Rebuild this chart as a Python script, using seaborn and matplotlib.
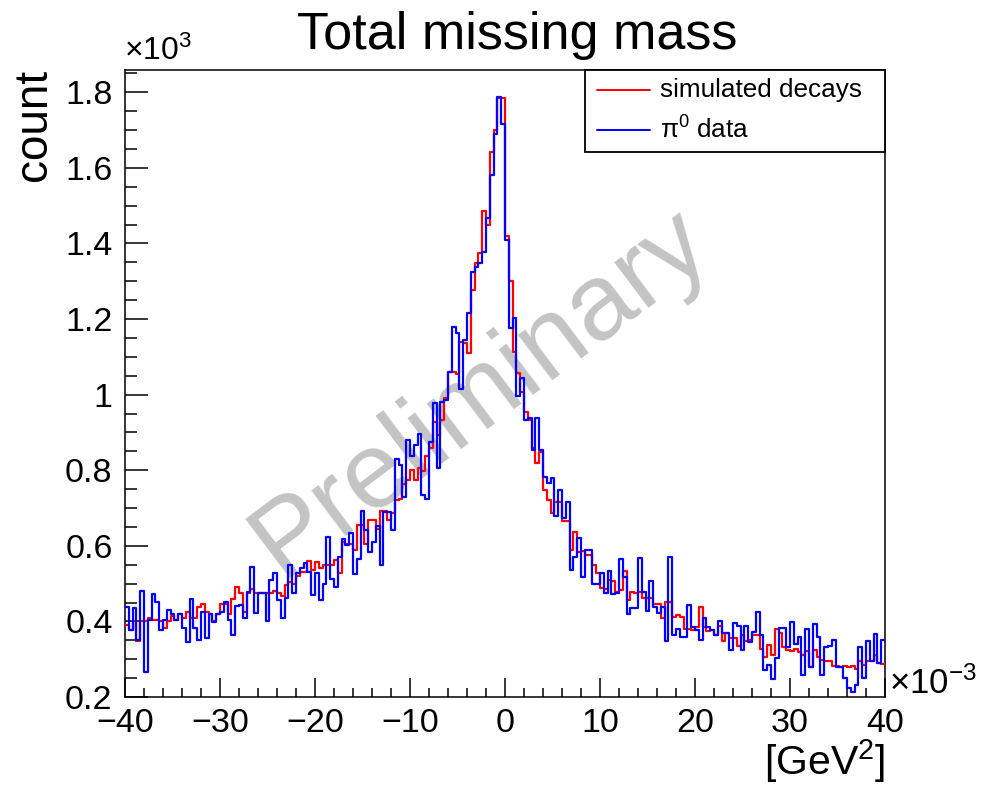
import numpy as np
import pandas as pd
import matplotlib
matplotlib.use("Agg")
import matplotlib.pyplot as plt
import seaborn as sns
from matplotlib.ticker import MultipleLocator, FuncFormatter
from matplotlib.patches import Rectangle
from matplotlib.lines import Line2D

# ---------------- data (counts in units of 10^3, x in 10^-3 GeV^2) ----------------
x_min, x_max, n_bins = -40.0, 40.0, 200

simulated_decays = [
    # -40 .. -30
    0.390, 0.378, 0.400, 0.347, 0.400, 0.400, 0.408, 0.404, 0.404, 0.400, 0.382, 0.400, 0.413,
    0.404, 0.420, 0.408, 0.426, 0.408, 0.408, 0.438, 0.447, 0.426, 0.420, 0.400, 0.420,
    # -30 .. -20
    0.447, 0.447, 0.420, 0.460, 0.490, 0.476, 0.426, 0.476, 0.485, 0.475, 0.476, 0.476, 0.476,
    0.476, 0.480, 0.475, 0.466, 0.496, 0.505, 0.500, 0.520, 0.530, 0.530, 0.560, 0.535,
    # -20 .. -10
    0.558, 0.540, 0.550, 0.550, 0.550, 0.562, 0.527, 0.611, 0.604, 0.604, 0.590, 0.655, 0.655,
    0.606, 0.668, 0.668, 0.645, 0.693, 0.693, 0.668, 0.687, 0.720, 0.724, 0.764, 0.773,
    # -10 .. 0
    0.800, 0.774, 0.805, 0.798, 0.837, 0.859, 0.927, 0.893, 0.933, 0.990, 1.060, 1.060, 1.055,
    1.140, 1.137, 1.110, 1.277, 1.348, 1.375, 1.486, 1.449, 1.642, 1.700, 1.785, 1.785,
    # 0 .. 10
    1.420, 1.300, 1.113, 1.057, 1.007, 0.954, 0.933, 0.860, 0.819, 0.848, 0.747, 0.720, 0.687,
    0.717, 0.715, 0.666, 0.666, 0.589, 0.636, 0.583, 0.585, 0.575, 0.575, 0.550, 0.528,
    # 10 .. 20
    0.488, 0.485, 0.510, 0.508, 0.479, 0.483, 0.534, 0.457, 0.479, 0.474, 0.479, 0.461, 0.461,
    0.461, 0.446, 0.446, 0.408, 0.452, 0.452, 0.412, 0.417, 0.412, 0.381, 0.381, 0.377,
    # 20 .. 30
    0.384, 0.439, 0.386, 0.375, 0.376, 0.364, 0.388, 0.347, 0.368, 0.355, 0.355, 0.335, 0.364,
    0.347, 0.351, 0.364, 0.364, 0.327, 0.305, 0.338, 0.311, 0.379, 0.368, 0.333, 0.324,
    # 30 .. 40
    0.322, 0.327, 0.320, 0.311, 0.322, 0.280, 0.324, 0.307, 0.298, 0.296, 0.294, 0.282, 0.282,
    0.279, 0.282, 0.280, 0.282, 0.273, 0.296, 0.285, 0.296, 0.296, 0.311, 0.291, 0.287,
]

pi0_data = [
    # -40 .. -30
    0.439, 0.378, 0.435, 0.351, 0.481, 0.267, 0.404, 0.472, 0.452, 0.378, 0.404, 0.430, 0.420,
    0.404, 0.420, 0.382, 0.346, 0.458, 0.382, 0.351, 0.426, 0.355, 0.420, 0.398, 0.420,
    # -30 .. -20
    0.426, 0.452, 0.404, 0.364, 0.440, 0.443, 0.409, 0.479, 0.544, 0.422, 0.476, 0.476, 0.400,
    0.510, 0.528, 0.457, 0.409, 0.462, 0.549, 0.475, 0.528, 0.541, 0.554, 0.530, 0.470,
    # -20 .. -10
    0.527, 0.457, 0.500, 0.622, 0.511, 0.492, 0.571, 0.617, 0.602, 0.635, 0.525, 0.564, 0.693,
    0.642, 0.583, 0.611, 0.653, 0.549, 0.690, 0.690, 0.642, 0.829, 0.814, 0.730, 0.880,
    # -10 .. 0
    0.837, 0.867, 0.896, 0.734, 0.724, 0.875, 0.978, 0.806, 0.980, 0.985, 1.060, 1.180, 1.163,
    1.015, 1.144, 1.216, 1.324, 1.338, 1.348, 1.377, 1.467, 1.580, 1.690, 1.787, 1.715,
    # 0 .. 10
    1.410, 1.176, 1.203, 0.996, 1.044, 0.933, 0.938, 0.853, 0.938, 0.853, 0.782, 0.766, 0.780,
    0.680, 0.747, 0.674, 0.717, 0.536, 0.570, 0.620, 0.517, 0.589, 0.589, 0.500, 0.500,
    # 10 .. 20
    0.529, 0.474, 0.534, 0.472, 0.474, 0.564, 0.518, 0.420, 0.435, 0.435, 0.568, 0.479, 0.428,
    0.508, 0.439, 0.423, 0.437, 0.349, 0.570, 0.364, 0.379, 0.358, 0.358, 0.443, 0.386,
    # 20 .. 30
    0.377, 0.351, 0.410, 0.386, 0.376, 0.364, 0.402, 0.368, 0.368, 0.324, 0.397, 0.388, 0.324,
    0.388, 0.346, 0.373, 0.426, 0.364, 0.272, 0.285, 0.247, 0.302, 0.382, 0.382, 0.331,
    # 30 .. 40
    0.398, 0.340, 0.360, 0.258, 0.380, 0.280, 0.392, 0.360, 0.258, 0.331, 0.335, 0.351, 0.280,
    0.280, 0.249, 0.223, 0.214, 0.232, 0.333, 0.249, 0.349, 0.296, 0.366, 0.291, 0.351,
]

series_labels = ["simulated decays", "\u03c0$^{0}$ data"]
series_colors = ["#ff0000", "#0000ff"]

title_text = "Total missing mass"
ylabel_text = "count"
xlabel_text = "[GeV$^{2}$]"
y_exp_text = "\u00d710$^{3}$"
x_exp_text = "\u00d710$^{-3}$"
watermark_text = "Preliminary"

# ---------------- styling ----------------
sns.set_style("white")
plt.rcParams["font.family"] = ["Liberation Sans", "DejaVu Sans"]
plt.rcParams["mathtext.fontset"] = "custom"
plt.rcParams["mathtext.rm"] = "Liberation Sans"
plt.rcParams["mathtext.it"] = "Liberation Sans:italic"
plt.rcParams["mathtext.bf"] = "Liberation Sans:bold"
plt.rcParams["text.color"] = "black"
plt.rcParams["axes.labelcolor"] = "black"
plt.rcParams["xtick.color"] = "black"
plt.rcParams["ytick.color"] = "black"

W, H = 983, 786
fig = plt.figure(figsize=(W / 100, H / 100), dpi=100)
fig.patch.set_facecolor("white")


def fx(px):
    return px / W


def fy(py):
    return 1 - py / H


ax_l, ax_r, ax_t, ax_b = 125, 885, 70, 697
ax = fig.add_axes([fx(ax_l), fy(ax_b), (ax_r - ax_l) / W, (ax_b - ax_t) / H])
ax.set_facecolor("white")

edges = list(np.linspace(x_min, x_max, n_bins + 1))
centers = 0.5 * (np.array(edges[:-1]) + np.array(edges[1:]))

df = pd.concat([
    pd.DataFrame({"x": centers, "count": simulated_decays, "series": "sim"}),
    pd.DataFrame({"x": centers, "count": pi0_data, "series": "data"}),
], ignore_index=True)

for key, col in zip(["sim", "data"], series_colors):
    sns.histplot(data=df[df["series"] == key], x="x", weights="count", bins=edges,
                 element="step", fill=False, color=col, linewidth=1.6, ax=ax, zorder=3)

ax.set_xlim(x_min, x_max)
ax.set_ylim(0.2, 0.2 + (ax_b - ax_t) / 378.0)
ax.set_xlabel("")
ax.set_ylabel("")

for s in ax.spines.values():
    s.set_visible(True)
    s.set_color("black")
    s.set_linewidth(1.1)

ax.xaxis.set_major_locator(MultipleLocator(10))
ax.xaxis.set_minor_locator(MultipleLocator(2))
ax.yaxis.set_major_locator(MultipleLocator(0.2))
ax.yaxis.set_minor_locator(MultipleLocator(0.05))
ax.xaxis.set_major_formatter(FuncFormatter(lambda v, p: f"{int(round(v))}".replace("-", "\u2212")))
ax.yaxis.set_major_formatter(FuncFormatter(lambda v, p: f"{round(v, 1):g}"))

ax.tick_params(axis="x", which="major", direction="in", length=13.5, width=1.1,
               labelsize=24.5, pad=8, bottom=True, top=False, colors="black")
ax.tick_params(axis="x", which="minor", direction="in", length=6.8, width=1.1,
               bottom=True, top=False)
ax.tick_params(axis="y", which="major", direction="in", length=16.5, width=1.1,
               labelsize=24.5, pad=9, left=True, right=False, colors="black")
ax.tick_params(axis="y", which="minor", direction="in", length=8.5, width=1.1,
               left=True, right=False)

# watermark
ax.text(fx(480), fy(393), watermark_text, transform=fig.transFigure, rotation=37,
        fontsize=78, color="#c4c4c4", ha="center", va="center", zorder=1,
        rotation_mode="anchor")

# texts
fig.text(fx(517), fy(36), title_text, ha="center", va="center", fontsize=37.5)
fig.text(fx(34), fy(69), ylabel_text, rotation=90, ha="center", va="top", fontsize=33)
fig.text(fx(885), fy(785), xlabel_text, ha="right", va="bottom", fontsize=29.5)
fig.text(fx(124), fy(67), y_exp_text, ha="left", va="bottom", fontsize=23)
fig.text(fx(889), fy(701), x_exp_text, ha="left", va="bottom", fontsize=25)

# legend box
leg_l, leg_r, leg_t, leg_b = 585, 885, 70, 152
fig.patches.append(Rectangle((fx(leg_l), fy(leg_b)), (leg_r - leg_l) / W, (leg_b - leg_t) / H,
                             transform=fig.transFigure, facecolor="white", edgecolor="black",
                             linewidth=1.3, zorder=5))
for (ly, lab, col) in [(90, series_labels[0], series_colors[0]), (130, series_labels[1], series_colors[1])]:
    fig.lines.append(Line2D([fx(597), fx(650)], [fy(ly), fy(ly)], transform=fig.transFigure,
                            color=col, linewidth=1.4, zorder=6))
    fig.text(fx(660), fy(ly), lab, ha="left", va="center", fontsize=18.8, zorder=6)

fig.savefig("out.png", dpi=100, facecolor="white")
